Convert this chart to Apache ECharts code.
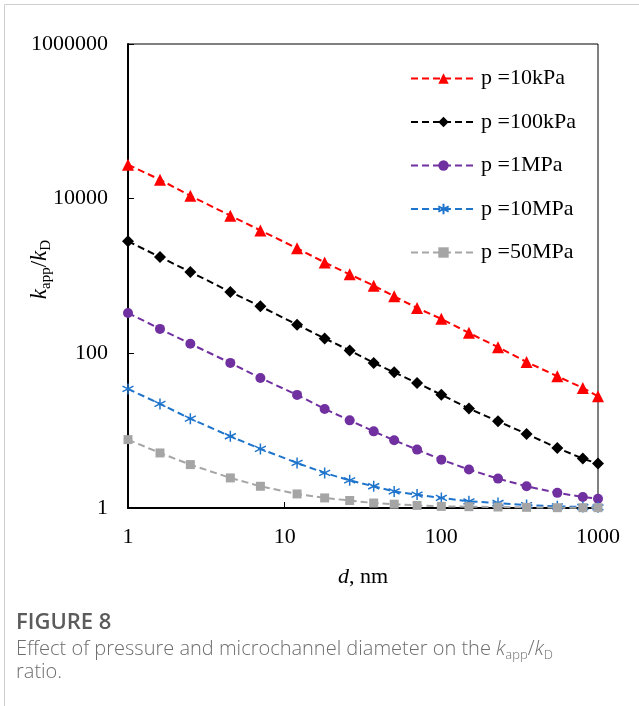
<!DOCTYPE html>
<html>
<head>
<meta charset="utf-8">
<title>k_app/k_D vs d</title>
<script src="https://cdn.jsdelivr.net/npm/echarts@6/dist/echarts.min.js"></script>
<style>
  html, body { margin: 0; padding: 0; background: #fff; }
  #chart { width: 639px; height: 706px; }
</style>
</head>
<body>
<div id="chart"></div>
<script>
// Microchannel diameter d, nm
const diameters = [1, 1.6, 2.5, 4.5, 7, 12, 18, 26, 37, 50, 70, 100, 150, 230, 350, 550, 800, 1000];

// k_app / k_D ratio for each pressure
const p10kPa  = [27500, 17600, 10900, 6030, 3890, 2280, 1500, 1050, 750, 546, 386, 279, 184, 120, 77.4, 50.5, 35.7, 27.8];
const p100kPa = [2810, 1760, 1130, 622, 405, 235, 156, 109, 75.2, 56.8, 41.4, 29.2, 19.3, 13.2, 9.08, 5.98, 4.35, 3.75];
const p1MPa   = [333, 207, 133, 75.2, 48, 29, 19.1, 13.6, 9.8, 7.5, 5.69, 4.22, 3.14, 2.40, 1.91, 1.57, 1.39, 1.32];
const p10MPa  = [34.7, 22.2, 14.3, 8.46, 5.81, 3.83, 2.84, 2.28, 1.91, 1.64, 1.49, 1.35, 1.22, 1.16, 1.09, 1.05, 1.03, 1.02];
const p50MPa  = [7.66, 5.15, 3.64, 2.45, 1.91, 1.52, 1.35, 1.25, 1.16, 1.12, 1.08, 1.05, 1.04, 1.03, 1.02, 1.01, 1.01, 1.01];

const seriesNames = ['p =10kPa', 'p =100kPa', 'p =1MPa', 'p =10MPa', 'p =50MPa'];

// Axis tick labels
const xTickValues = [1, 10, 100, 1000];
const xTickLabels = ['1', '10', '100', '1000'];
const yTickValues = [1, 100, 10000, 1000000];
const yTickLabels = ['1', '100', '10000', '1000000'];

const SERIF = '"Liberation Serif", "Times New Roman", serif';
const SANS = '"Open Sans", "Noto Sans", sans-serif';

function tickLabel(values, labels) {
  return function (v) {
    let best = 0;
    for (let i = 1; i < values.length; i++) {
      if (Math.abs(Math.log10(values[i]) - Math.log10(v)) <
          Math.abs(Math.log10(values[best]) - Math.log10(v))) best = i;
    }
    return labels[best];
  };
}

function pairs(ys) {
  return diameters.map((d, i) => [d, ys[i]]);
}

// six-armed asterisk marker, drawn with a stroke
const asterisk = 'path://M0,-6L0,6M-5.2,-3L5.2,3M-5.2,3L5.2,-3';

function lineSeries(name, ys, color, symbol, size, extraItem) {
  return {
    name: name,
    type: 'line',
    data: pairs(ys),
    symbol: symbol,
    symbolSize: size,
    showSymbol: true,
    clip: false,
    lineStyle: { color: color, width: 2, type: [7, 4] },
    itemStyle: Object.assign({ color: color }, extraItem || {}),
    emphasis: { disabled: true }
  };
}

const chart = echarts.init(document.getElementById('chart'), null, { renderer: 'canvas' });

const option = {
  animation: false,
  backgroundColor: '#ffffff',
  grid: {
    left: 128, right: 41, top: 44, bottom: 198,
    show: true, borderColor: '#000', borderWidth: 1,
    backgroundColor: 'transparent',
    containLabel: false,
    outerBoundsMode: 'none'
  },
  legend: {
    orient: 'vertical',
    left: 410,
    top: 67.5,
    padding: 0,
    itemWidth: 65,
    itemHeight: 13,
    itemGap: 21.5,
    selectedMode: false,
    textStyle: { fontFamily: SERIF, fontSize: 22, color: '#000', lineHeight: 21 },
    data: seriesNames
  },
  xAxis: {
    type: 'log',
    logBase: 10,
    min: 1,
    max: 1000,
    interval: 1,
    axisLine: { show: true, lineStyle: { color: '#000', width: 2 } },
    axisTick: { show: true, inside: true, length: 6, lineStyle: { color: '#000', width: 1 } },
    minorTick: { show: false },
    splitLine: { show: false },
    axisLabel: {
      fontFamily: SERIF, fontSize: 22, color: '#000', margin: 18,
      formatter: tickLabel(xTickValues, xTickLabels)
    },
    name: '{i|d}{n|, nm}',
    nameLocation: 'middle',
    nameGap: 58,
    nameMoveOverlap: false,
    nameTextStyle: {
      rich: {
        i: { fontFamily: SERIF, fontSize: 22, fontStyle: 'italic', color: '#000', lineHeight: 22 },
        n: { fontFamily: SERIF, fontSize: 22, color: '#000', lineHeight: 22 }
      }
    }
  },
  yAxis: {
    type: 'log',
    logBase: 10,
    min: 1,
    max: 1000000,
    interval: 2,
    axisLine: { show: true, lineStyle: { color: '#000', width: 2 } },
    axisTick: { show: true, inside: true, length: 6, lineStyle: { color: '#000', width: 1 } },
    minorTick: { show: false },
    splitLine: { show: false },
    axisLabel: {
      fontFamily: SERIF, fontSize: 22, color: '#000', margin: 20,
      formatter: tickLabel(yTickValues, yTickLabels)
    },
    name: '{k|k}{s|app}{n|/}{k|k}{s|D}',
    nameLocation: 'middle',
    nameRotate: 90,
    nameGap: 74,
    nameMoveOverlap: false,
    nameTextStyle: {
      padding: [0, 0, 0, 13],
      rich: {
        k: { fontFamily: SERIF, fontSize: 23, fontStyle: 'italic', color: '#000', lineHeight: 22, verticalAlign: 'top' },
        n: { fontFamily: SERIF, fontSize: 23, color: '#000', lineHeight: 22, verticalAlign: 'top' },
        s: { fontFamily: SERIF, fontSize: 15, color: '#000', lineHeight: 26, verticalAlign: 'bottom' }
      }
    }
  },
  series: [
    lineSeries(seriesNames[0], p10kPa, '#ff0000', 'triangle', 12),
    lineSeries(seriesNames[1], p100kPa, '#000000', 'diamond', 12),
    lineSeries(seriesNames[2], p1MPa, '#7030a0', 'circle', 10),
    lineSeries(seriesNames[3], p10MPa, '#1f74cc', asterisk, 11, { borderColor: '#1f74cc', borderWidth: 1.5 }),
    lineSeries(seriesNames[4], p50MPa, '#a5a5a5', 'rect', 9)
  ],
  graphic: [
    // page frame
    { type: 'line', silent: true, shape: { x1: 4.5, y1: 4.5, x2: 639, y2: 4.5 }, style: { stroke: '#cfcfcf', lineWidth: 1 } },
    { type: 'line', silent: true, shape: { x1: 4.5, y1: 4.5, x2: 4.5, y2: 706 }, style: { stroke: '#cfcfcf', lineWidth: 1 } },
    // caption
    {
      type: 'text', silent: true, x: 16, y: 623,
      style: { text: 'FIGURE 8', font: '600 22px ' + SANS, fill: '#5b5b5b', textVerticalAlign: 'middle', verticalAlign: 'middle' }
    },
    {
      type: 'text', silent: true, x: 16, y: 639,
      style: {
        text: '{r|Effect of pressure and microchannel diameter on the }{ki|k}{sb|app}{r|/}{ki|k}{sb|D}',
        fill: '#6e6e6e',
        textVerticalAlign: 'top', verticalAlign: 'top',
        rich: {
          r: { font: '300 20px ' + SANS, fill: '#6e6e6e', lineHeight: 20, verticalAlign: 'top' },
          ki: { font: 'italic 300 20px ' + SANS, fill: '#6e6e6e', lineHeight: 20, verticalAlign: 'top' },
          sb: { font: '300 13px ' + SANS, fill: '#6e6e6e', lineHeight: 23, verticalAlign: 'bottom' }
        }
      }
    },
    {
      type: 'text', silent: true, x: 16, y: 672,
      style: { text: 'ratio.', font: '300 20px ' + SANS, fill: '#6e6e6e', textVerticalAlign: 'middle', verticalAlign: 'middle' }
    }
  ]
};

chart.setOption(option);
</script>
</body>
</html>
